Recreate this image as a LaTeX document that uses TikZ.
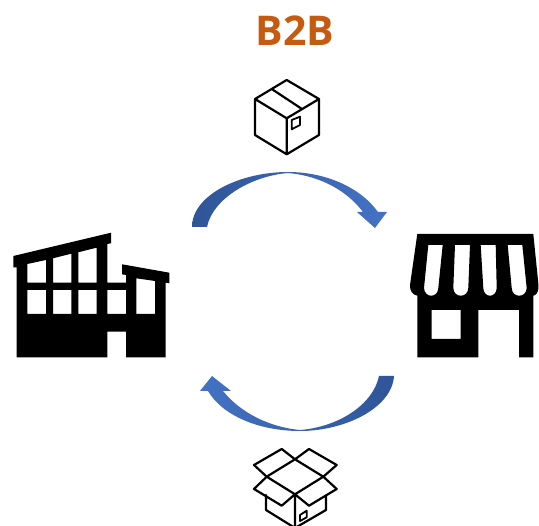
\documentclass[tikz,border=0pt]{standalone}
\usepackage{fontspec}
\setmainfont{Open Sans}
\definecolor{titleorange}{HTML}{C55A11}
\definecolor{arrowdark}{HTML}{2F5597}
\definecolor{arrowlight}{HTML}{4472C4}
\tikzset{
  boxline/.style={draw=black,line width=2.2pt,line join=round,line cap=round},
  silhouette/.style={fill=black,even odd rule},
  cyclearrow/.style={draw=none}
}
\begin{document}
\begin{tikzpicture}[x=1pt,y=-1pt]
\useasboundingbox (0,0) rectangle (539,526);
\clip (0,0) rectangle (539,526);
\node (title) at (295,31) {\fontsize{41}{41}\selectfont\bfseries\color{titleorange}B2B};
% top arrow
\shade[left color=arrowdark,right color=arrowlight,cyclearrow]
 (192,227) .. controls (192,195) and (240,172) .. (288,172)
 .. controls (325,172) and (360,187) .. (378,212) -- (387,212) -- (375,228) -- (357,212) -- (363,212)
 .. controls (348,192) and (322,176) .. (288,173)
 .. controls (252,176) and (213,198) .. (207,227) -- cycle;
% bottom arrow
\shade[right color=arrowdark,left color=arrowlight,cyclearrow]
 (394,376) .. controls (392,408) and (345,431) .. (300,431)
 .. controls (258,431) and (222,415) .. (208,391) -- (200,391) -- (212,376) -- (231,391) -- (223,391)
 .. controls (240,412) and (268,427) .. (300,430)
 .. controls (338,427) and (373,405) .. (379,376) -- cycle;
% factory
\fill[silhouette]
 (16.7,357.3) -- (16.7,267.3) -- (13.3,267.3) -- (13.3,256) -- (111,232.7) -- (111,243.3) -- (107.3,244)
 -- (107.3,282.7) -- (126,282.7) -- (126,275) -- (122,274.3) -- (122,264.3) -- (169.3,272.7) -- (169.3,283.3)
 -- (165.7,282.7) -- (165.7,357.3) -- (126,357.3) -- (126,331.7) -- (107.3,331.7) -- (107.3,357.3) -- cycle
 (27.3,264) -- (46,260) -- (46,282.7) -- (27.3,282.7) -- cycle
 (53,258.3) -- (71.3,253.7) -- (71.3,282.7) -- (53,282.7) -- cycle
 (78.3,252.3) -- (96.7,247.7) -- (96.7,282.7) -- (78.3,282.7) -- cycle
 (27.3,290) rectangle (46,314)
 (53,290) rectangle (71.3,314)
 (78.3,290) rectangle (96.7,314)
 (107.3,290) rectangle (126,314)
 (136.3,278.3) -- (155,281) -- (155,314) -- (136.3,314) -- cycle;
% shop
\fill[silhouette]
 (417.3,234) -- (533.3,234) -- (538.5,285)
 .. controls (539,292) and (536,295.5) .. (533.3,295.7)
 -- (533.3,357.3) -- (519,357.3) -- (519,310) -- (478.3,310) -- (478.3,357.3) -- (417.3,357.3) -- (417.3,295.7)
 .. controls (413,295) and (409.5,291) .. (410,285) -- cycle
 (431.7,310) rectangle (460.7,339)
 (428.3,245) -- (442.7,245) -- (438.3,288) .. controls (438,298.3) and (424.5,298.3) .. (424,288) -- cycle
 (455,245) -- (470,245) -- (468.3,288) .. controls (468,298.3) and (453.6,298.3) .. (453.3,288) -- cycle
 (480.7,245) -- (495.7,245) -- (496.7,288) .. controls (496.4,298.3) and (483.6,298.3) .. (483.3,288) -- cycle
 (507.7,245) -- (522.3,245) -- (526.7,288) .. controls (526.4,298.3) and (512,298.3) .. (511.7,288) -- cycle;
% closed box
\draw[boxline]
 (286.7,80) -- (319,99) -- (319,135) -- (286.7,154.3) -- (255,135) -- (255,99) -- cycle
 (255,99) -- (286.7,118.3) -- (319,99)
 (286.7,118.3) -- (286.7,154.3)
 (271.7,89) -- (302,109);
\draw[boxline,line width=1.8pt]
 (291.7,120) -- (300,116.7) -- (300,125) -- (291.7,129.3) -- cycle;
% open box
\draw[boxline]
 (295,459.3) -- (323.3,476.7) -- (295,494.3) -- (266.7,476.7) -- cycle
 (266.7,476.7) -- (254,465) -- (281.7,449) -- (295,459.3)
 (323.3,476.7) -- (336.7,465) -- (309,449) -- (295,459.3)
 (266.7,476.7) -- (254,489) -- (281.7,505.7) -- (295,494.3)
 (323.3,476.7) -- (336.7,489) -- (309,505.7) -- (295,494.3)
 (266,495) -- (266,510) -- (295,528)
 (326,495) -- (326,510) -- (295,528)
 (295,494.3) -- (295,528);
\draw[boxline,line width=1.8pt]
 (300,515) -- (306.7,510.7) -- (306.7,517.3) -- (300,521) -- cycle;
\end{tikzpicture}
\end{document}
